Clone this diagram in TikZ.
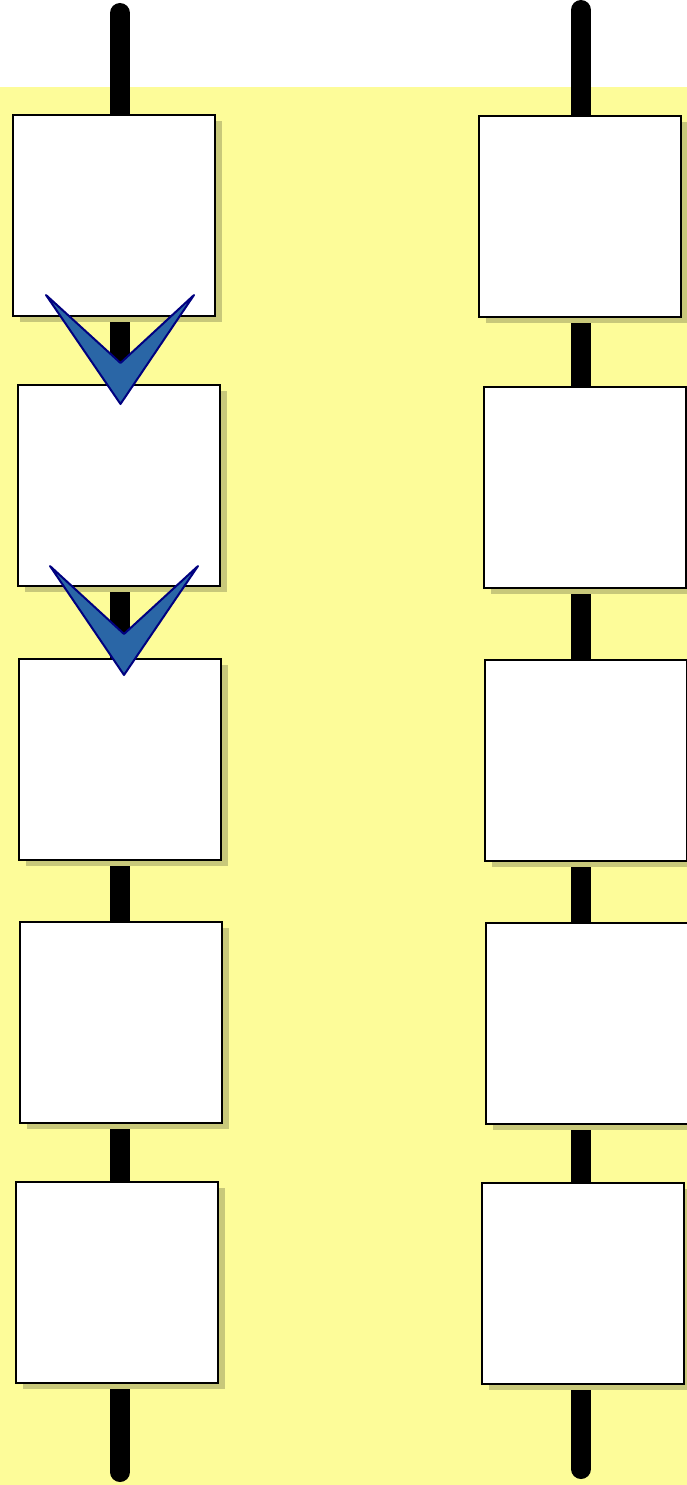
\documentclass[tikz,border=0pt]{standalone}
\begin{document}
\begin{tikzpicture}[x=1pt,y=-1pt,
  pole/.style={line width=20pt,line cap=round,black},
  boxnode/.style={draw=black,line width=1.3pt,fill=white},
  shadowbox/.style={fill=shadowc},
  chevron/.style={fill=chevfill,draw=chevline,line width=2pt,line join=round}]
\definecolor{bgyellow}{RGB}{253,252,153}
\definecolor{shadowc}{RGB}{200,200,122}
\definecolor{chevfill}{RGB}{42,102,166}
\definecolor{chevline}{RGB}{0,0,128}
\useasboundingbox (0,0) rectangle (687,1485);
\fill[bgyellow] (0,87) rectangle (687,1485);
% poles
\coordinate (lt) at (120,13);
\coordinate (lb) at (120,1472);
\coordinate (rt) at (581,10);
\coordinate (rb) at (581,1469);
\draw[pole] (lt) -- (lb);
\draw[pole] (rt) -- (rb);
% boxes: shadow then box
\foreach \n/\xa/\ya in {L1/13/115,L2/18/385,L3/19/659,L4/20/922,L5/16/1182,
                        R1/479/116,R2/484/387,R3/485/660,R4/486/923,R5/482/1183}{
  \fill[shadowbox] (\xa+7,\ya+6) rectangle (\xa+209,\ya+207);
  \draw[boxnode] (\xa,\ya) rectangle (\xa+202,\ya+201) node[pos=0.5,inner sep=0pt] (\n) {};
}
% chevrons
\draw[chevron] (46,295) -- (120.5,363) -- (194,295) -- (120.5,404) -- cycle;
\draw[chevron] (50,566) -- (124,634) -- (198,566) -- (124,675) -- cycle;
\end{tikzpicture}
\end{document}
